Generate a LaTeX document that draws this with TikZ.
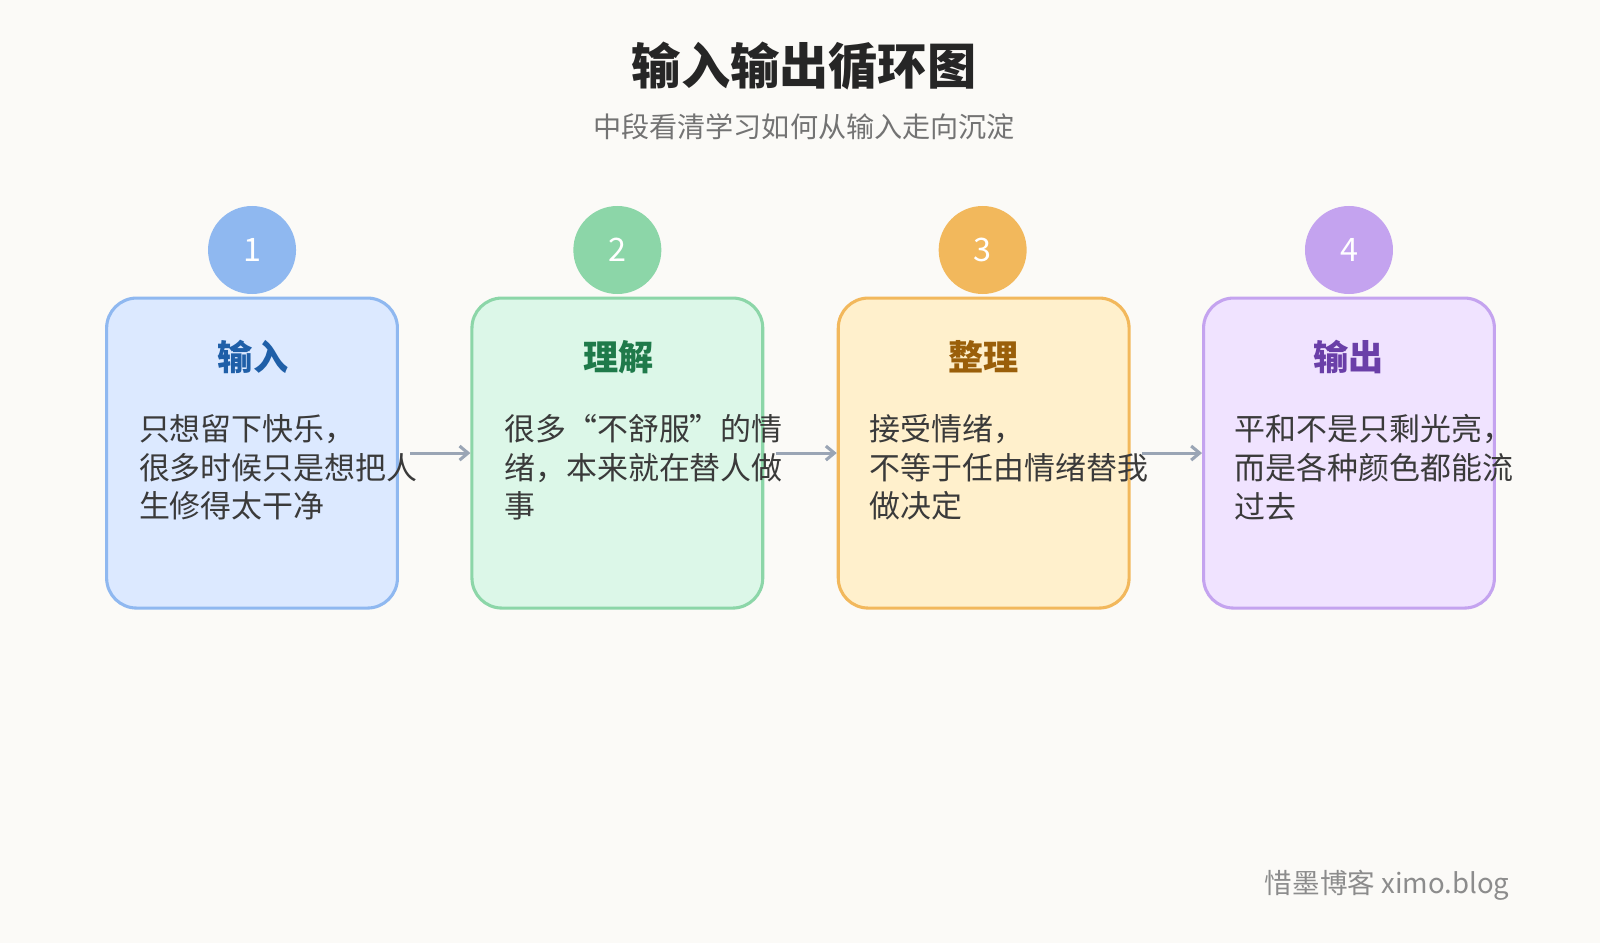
\documentclass[tikz,border=0pt]{standalone}
\usepackage{fontspec}
\setmainfont{Noto Sans CJK SC}
\usetikzlibrary{arrows.meta}
\definecolor{bgcol}{HTML}{FBFAF7}
\definecolor{ringA}{HTML}{8FB8F0}
\definecolor{ringB}{HTML}{8CD6A8}
\definecolor{ringC}{HTML}{F2B85C}
\definecolor{ringD}{HTML}{C4A3EF}
\definecolor{fillA}{HTML}{DCE9FF}
\definecolor{fillB}{HTML}{DCF7E8}
\definecolor{fillC}{HTML}{FFF0CC}
\definecolor{fillD}{HTML}{F0E3FF}
\definecolor{headA}{HTML}{1F5FA8}
\definecolor{headB}{HTML}{1F7A4A}
\definecolor{headC}{HTML}{9A5F0A}
\definecolor{headD}{HTML}{6A3FA8}
\definecolor{bodytext}{HTML}{3A3A3A}
\definecolor{linkcol}{HTML}{9AA5B5}
\tikzset{
  stagebox/.style={draw, line width=2.2pt, rounded corners=0.75cm, minimum width=7.27cm, minimum height=7.75cm, inner sep=0pt},
  stagenum/.style={circle, minimum size=2.2cm, inner sep=0pt, text=white, font=\fontsize{23}{23}\selectfont},
  stagehead/.style={font=\fontsize{25}{25}\selectfont\bfseries},
  stagebody/.style={anchor=west, align=left, text=bodytext, inner sep=0pt, font=\fontsize{22}{27.6}\selectfont},
  link/.style={draw=linkcol, line width=2.2pt, -{Straight Barb[length=6pt,width=10pt]}, shorten <=0.28cm}
}
\begin{document}
\begin{tikzpicture}[x=1.0204cm,y=1.0204cm]
\fill[bgcol] (0,0) rectangle (39.2,-23.1);
\useasboundingbox (0,0) rectangle (39.2,-23.1);
% title
\node[font=\fontsize{35}{35}\selectfont\bfseries, text=black!85] (title) at (19.7,-1.63) {输入输出循环图};
\node[font=\fontsize{20}{20}\selectfont, text=black!55] (subtitle) at (19.7,-3.1) {中段看清学习如何从输入走向沉淀};
% boxes
\node[stagebox, draw=ringA, fill=fillA] (boxA) at (6.175,-11.1) {};
\node[stagebox, draw=ringB, fill=fillB] (boxB) at (15.125,-11.1) {};
\node[stagebox, draw=ringC, fill=fillC] (boxC) at (24.1,-11.1) {};
\node[stagebox, draw=ringD, fill=fillD] (boxD) at (33.05,-11.1) {};
% links
\draw[link] (boxA.east) -- (boxB.west);
\draw[link] (boxB.east) -- (boxC.west);
\draw[link] (boxC.east) -- (boxD.west);
% numbers
\node[stagenum, fill=ringA] (numA) at (6.175,-6.125) {1};
\node[stagenum, fill=ringB] (numB) at (15.125,-6.125) {2};
\node[stagenum, fill=ringC] (numC) at (24.075,-6.125) {3};
\node[stagenum, fill=ringD] (numD) at (33.05,-6.125) {4};
% headings
\node[stagehead, text=headA] (headA) at (6.2,-8.75) {输入};
\node[stagehead, text=headB] (headB) at (15.15,-8.75) {理解};
\node[stagehead, text=headC] (headC) at (24.1,-8.75) {整理};
\node[stagehead, text=headD] (headD) at (33.05,-8.75) {输出};
% texts
\node[stagebody] (bodyA) at (3.4,-11.45) {只想留下快乐，\\很多时候只是想把人\\生修得太干净};
\node[stagebody] (bodyB) at (12.35,-11.45) {很多“不舒服”的情\\绪，本来就在替人做\\事};
\node[stagebody] (bodyC) at (21.3,-11.45) {接受情绪，\\不等于任由情绪替我\\做决定};
\node[stagebody] (bodyD) at (30.25,-11.45) {平和不是只剩光亮，\\而是各种颜色都能流\\过去};
% footer
\node[anchor=east, text=black!45, font=\fontsize{19.6}{19.6}\selectfont] (footer) at (37.1,-21.68) {惜墨博客 ximo.blog};
\end{tikzpicture}
\end{document}
